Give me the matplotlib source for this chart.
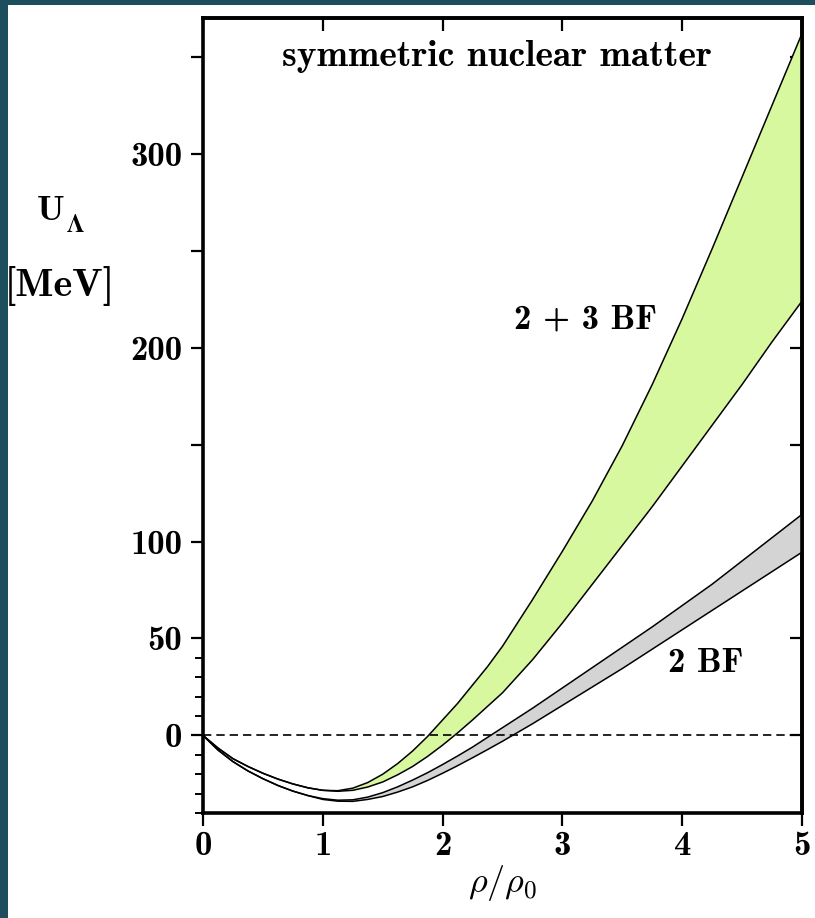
import matplotlib
matplotlib.use('Agg')
import matplotlib.pyplot as plt
from matplotlib.patches import Rectangle

plt.rcParams['mathtext.fontset'] = 'cm'
plt.rcParams['axes.formatter.use_mathtext'] = True

# ---------------- data ----------------
rho = [0.0, 0.125, 0.25, 0.375, 0.5, 0.625, 0.75, 0.875, 1.0, 1.125, 1.25,
       1.375, 1.5, 1.625, 1.75, 1.875, 2.0, 2.125, 2.25, 2.375, 2.5,
       2.75, 3.0, 3.25, 3.5, 3.75, 4.0, 4.25, 4.5, 4.75, 5.0]

u_23bf_upper = [0, -6.5, -12, -16, -19.5, -22.5, -25, -27, -28.3, -28.5, -27.2,
                -24.3, -20, -14.5, -8, -0.5, 8, 16.5, 26, 35.5, 46,
                70, 95, 121, 149.5, 181, 215, 251, 288, 325, 362]
u_23bf_lower = [0, -6.5, -12, -16, -19.5, -22.5, -25, -27, -28.3, -28.8, -28.3,
                -26.6, -24, -20.3, -16, -10.8, -5, 1.3, 8, 15, 22,
                39, 58, 78, 98, 118, 139, 160, 181, 203, 224]

u_2bf_upper = [0, -7.5, -13.5, -18.3, -22.3, -25.8, -28.7, -31, -32.6, -33.4, -33.2,
               -31.8, -29.5, -26.5, -23, -19.2, -15, -10.6, -6, -1, 4,
               14, 24.5, 35, 45.5, 56, 67, 78, 90, 102, 114]
u_2bf_lower = [0, -7.5, -13.5, -18.3, -22.3, -25.8, -28.7, -31, -33, -33.9, -34,
               -33, -31.5, -29.2, -26.5, -23.2, -19.5, -15.6, -11.5, -7.3, -3,
               6, 15.5, 25, 34.5, 44.5, 54.5, 64.5, 74.5, 84.5, 94.5]

x_ticks = [0, 1, 2, 3, 4, 5]
x_tick_labels = ['0', '1', '2', '3', '4', '5']
y_major = [0, 50, 100, 150, 200, 250, 300, 350]
y_major_labels = ['0', '50', '100', '', '200', '', '300', '']
y_minor = [-40, -30, -20, -10, 10, 20, 30, 40]

title_text = 'symmetric nuclear matter'
label_23 = '2 + 3 BF'
label_2 = '2 BF'

# ---------------- figure ----------------
W, H = 815, 918
fig = plt.figure(figsize=(W / 100, H / 100), dpi=100)
fig.patch.set_facecolor('white')
teal = '#1d4e5e'
fig.patches.append(Rectangle((0, 0), 8 / W, 1, transform=fig.transFigure,
                             facecolor=teal, edgecolor='none', zorder=0))
fig.patches.append(Rectangle((0, 1 - 5 / H), 1, 5 / H, transform=fig.transFigure,
                             facecolor=teal, edgecolor='none', zorder=0))

ax = fig.add_axes([203 / W, 1 - 813 / H, (802 - 203) / W, (813 - 18) / H])

green = '#d8f8a0'
gray = '#d4d4d4'
ax.fill_between(rho, u_2bf_lower, u_2bf_upper, facecolor=gray, edgecolor='none', zorder=1)
ax.fill_between(rho, u_23bf_lower, u_23bf_upper, facecolor=green, edgecolor='none', zorder=1)
for arr in (u_2bf_lower, u_2bf_upper, u_23bf_lower, u_23bf_upper):
    ax.plot(rho, arr, color='black', lw=1.1, zorder=2, solid_joinstyle='round')

ax.axhline(0, color='black', lw=1.2, ls=(0, (5, 3)), zorder=3)

ax.set_xlim(0, 5)
ax.set_ylim(-40, 370)

fnt = 'cmb10'
ax.set_xticks(x_ticks)
ax.set_xticklabels(x_tick_labels, fontfamily=fnt, fontsize=25)
ax.set_yticks(y_major)
ax.set_yticklabels(y_major_labels, fontfamily=fnt, fontsize=25)
ax.set_yticks(y_minor, minor=True)
ax.tick_params(axis='x', which='major', direction='out', length=9, width=1.6, pad=4)
ax.tick_params(axis='y', which='major', direction='out', length=9, width=1.6, pad=6)
ax.tick_params(axis='y', which='minor', direction='out', length=5.5, width=1.4)
for sp in ax.spines.values():
    sp.set_linewidth(2.6)

secx = ax.secondary_xaxis('top')
secx.set_xticks(x_ticks)
secx.tick_params(direction='in', length=9, width=1.6, labeltop=False)
secx.spines['top'].set_linewidth(2.6)
secy = ax.secondary_yaxis('right')
secy.set_yticks(y_major)
secy.tick_params(direction='in', length=9, width=1.6, labelright=False)
secy.spines['right'].set_linewidth(2.6)

ax.text(2.455, 350, title_text, fontfamily=fnt, fontsize=27, ha='center', va='center')
ax.text(3.19, 214, label_23, fontfamily=fnt, fontsize=25, ha='center', va='center')
ax.text(4.2, 37, label_2, fontfamily=fnt, fontsize=25, ha='center', va='center')

ax.set_xlabel(r'$\rho/\rho_0$', fontsize=26, labelpad=1)

fig.text(51 / W, 1 - 212 / H, 'U', fontfamily=fnt, fontsize=26,
         ha='center', va='center')
fig.text(75 / W, 1 - 225 / H, r'$\mathbf{\Lambda}$', math_fontfamily='stix',
         fontsize=18, ha='center', va='center')
fig.text(60 / W, 1 - 286 / H, '[MeV]', fontfamily=fnt, fontsize=29,
         ha='center', va='center')

fig.savefig('out.png', dpi=100, facecolor='white')
